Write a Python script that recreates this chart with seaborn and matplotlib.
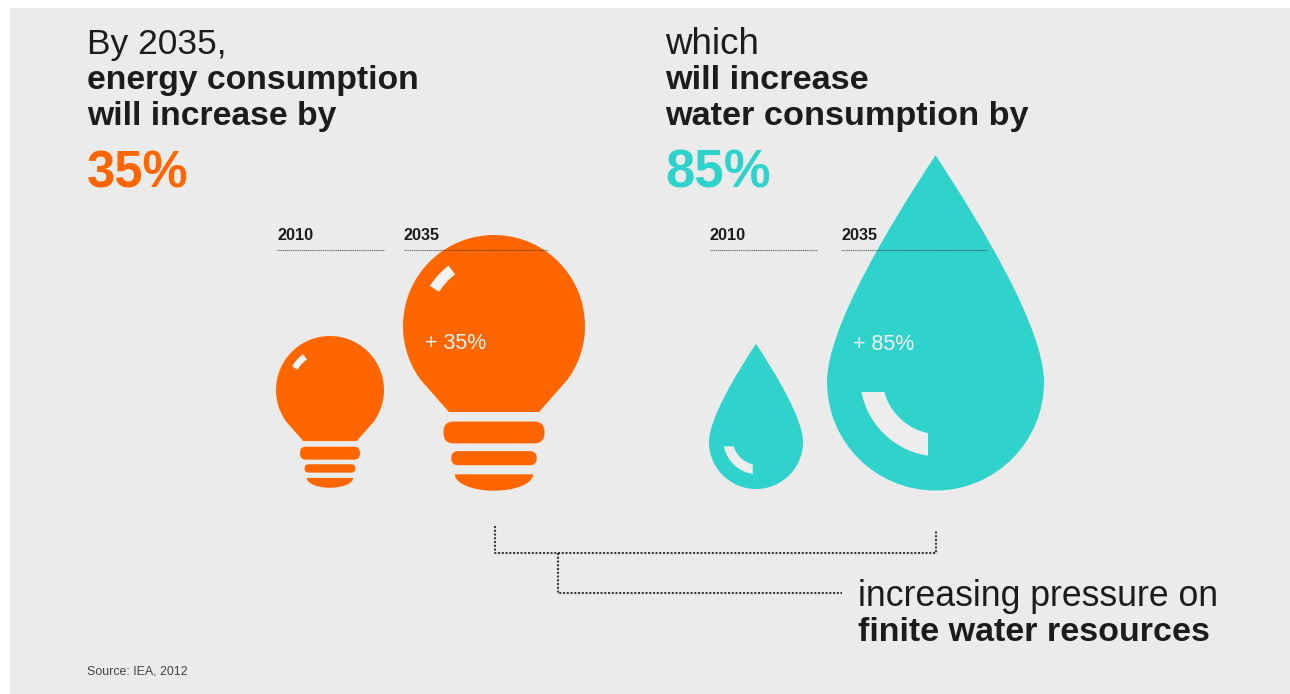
import numpy as np
import pandas as pd
import matplotlib
matplotlib.use("Agg")
import matplotlib.pyplot as plt
from matplotlib.patches import Polygon, PathPatch, Rectangle
from matplotlib.path import Path
import seaborn as sns

# ---- data ----
years = ["2010", "2035"]
energy_increase = 35
water_increase = 85
source_text = "Source: IEA, 2012"
heading_left = ["By 2035,", "energy consumption", "will increase by"]
heading_right = ["which", "will increase", "water consumption by"]
footer_lines = ["increasing pressure on", "finite water resources"]

ORANGE = "#ff6600"
TEAL = "#30d3cb"
BG = "#ebebeb"
INK = "#1c1c1c"
W = "#f3f3f3"

sns.set_theme(style="white")
plt.rcParams["font.family"] = ["Liberation Sans", "DejaVu Sans"]

fig = plt.figure(figsize=(12.9, 6.94), dpi=100, facecolor="white")
ax = fig.add_axes([0, 0, 1, 1])
ax.set_xlim(0, 1290)
ax.set_ylim(694, 0)
ax.axis("off")
ax.add_patch(Rectangle((10, 8), 1280, 686, fc=BG, ec="none", zorder=0))


def round_band(x0, x1, y0, y1, rad):
    verts, codes = [(x0 + rad, y0)], [Path.MOVETO]
    for (a, b, c) in [((x1 - rad, y0), (x1, y0), (x1, y0 + rad)),
                      ((x1, y1 - rad), (x1, y1), (x1 - rad, y1)),
                      ((x0 + rad, y1), (x0, y1), (x0, y1 - rad)),
                      ((x0, y0 + rad), (x0, y0), (x0 + rad, y0))]:
        verts += [a, b, c]
        codes += [Path.LINETO, Path.CURVE3, Path.CURVE3]
    return Path(verts, codes)


def bulb(cx, cy, r, color):
    # angles run through the top of the globe; y axis points downward
    t = np.radians(np.linspace(216, -36, 90))
    xs = cx + r * np.cos(t)
    ys = cy - r * np.sin(t)
    pts = [(cx - 0.495 * r, cy + 0.945 * r)] + list(zip(xs, ys)) + [(cx + 0.495 * r, cy + 0.945 * r)]
    ax.add_patch(Polygon(pts, closed=True, fc=color, ec="none", zorder=2))
    ax.add_patch(PathPatch(round_band(cx - .555 * r, cx + .555 * r, cy + 1.05 * r, cy + 1.29 * r, .11 * r),
                           fc=color, ec="none", zorder=2))
    ax.add_patch(PathPatch(round_band(cx - .47 * r, cx + .47 * r, cy + 1.375 * r, cy + 1.53 * r, .075 * r),
                           fc=color, ec="none", zorder=2))
    d = np.radians(np.linspace(0, 180, 40))
    dome = [(cx + .43 * r * np.cos(v), cy + 1.63 * r + .18 * r * np.sin(v)) for v in d]
    ax.add_patch(Polygon(dome, closed=True, fc=color, ec="none", zorder=2))
    h = np.radians(np.linspace(148, 127, 12))
    ring = [(cx + .83 * r * np.cos(v), cy - .83 * r * np.sin(v)) for v in h] + \
           [(cx + .71 * r * np.cos(v), cy - .71 * r * np.sin(v)) for v in h[::-1]]
    ax.add_patch(Polygon(ring, closed=True, fc=W, ec="none", zorder=3))


def drop(cx, cy, r, color):
    k = 0.5523
    v = [(cx, cy - 2.09 * r),
         (cx - .42 * r, cy - 1.45 * r), (cx - r, cy - .5 * r), (cx - r, cy),
         (cx - r, cy + k * r), (cx - k * r, cy + r), (cx, cy + r),
         (cx + k * r, cy + r), (cx + r, cy + k * r), (cx + r, cy),
         (cx + r, cy - .5 * r), (cx + .42 * r, cy - 1.45 * r), (cx, cy - 2.09 * r)]
    c = [Path.MOVETO] + [Path.CURVE4] * 12
    ax.add_patch(PathPatch(Path(v, c), fc=color, ec="none", zorder=2))

    # curved glint: ring about a centre near the drop's, cut flat on top and right
    ox, oy = cx + .041 * r, cy - .049 * r
    top, right = .141, .11   # offsets of the flat cuts from the ring centre, in r

    def arc(R):
        phi = np.linspace(np.arcsin(top / R), np.arccos(right / R), 24)
        return [(ox - R * r * np.cos(p), oy + R * r * np.sin(p)) for p in phi]

    ring = arc(.737) + arc(.532)[::-1]
    ax.add_patch(Polygon(ring, closed=True, fc="#ededed", ec="none", zorder=3))


bulb(330, 390, 54, ORANGE)
bulb(494, 326, 91, ORANGE)
drop(756, 442, 47, TEAL)
drop(935.5, 382, 108.5, TEAL)

# year headers and their hairlines
for x, x1, yr in [(277, 384, years[0]), (404, 548, years[1]),
                  (710, 817, years[0]), (841, 987, years[1])]:
    ax.text(x, 239.5, yr, fontsize=11.7, fontweight="bold", color=INK, va="baseline", ha="left", zorder=5)
    sns.lineplot(x=[x, x1], y=[250, 250], ax=ax, color="#33383a", linewidth=0.8, alpha=0.75,
                 linestyle=(0, (1, 0.7)), legend=False, zorder=5)

# dotted brackets
for xs, ys in [([495, 495, 936, 936], [526, 553, 553, 530]),
               ([558, 558, 842], [553, 593, 593])]:
    frame = pd.DataFrame({"x": xs, "y": ys})
    sns.lineplot(data=frame, x="x", y="y", sort=False, estimator=None, ax=ax,
                 color="#3a3a3a", linewidth=1.5, linestyle=(0, (1, 0.8)), legend=False, zorder=4)

ax.set_xlim(0, 1290)
ax.set_ylim(694, 0)
ax.set_xlabel("")
ax.set_ylabel("")

# headings
ax.text(87, 54, heading_left[0], fontsize=25.5, color=INK, va="baseline", zorder=5)
ax.text(87, 89, heading_left[1], fontsize=24.3, fontweight="bold", color=INK, va="baseline", zorder=5)
ax.text(87, 125, heading_left[2], fontsize=24.3, fontweight="bold", color=INK, va="baseline", zorder=5)
ax.text(665, 54, heading_right[0], fontsize=26.5, color=INK, va="baseline", zorder=5)
ax.text(665, 89, heading_right[1], fontsize=24.7, fontweight="bold", color=INK, va="baseline", zorder=5)
ax.text(665, 125, heading_right[2], fontsize=24.7, fontweight="bold", color=INK, va="baseline", zorder=5)
ax.text(87, 187.5, f"{energy_increase}%", fontsize=36.5, fontweight="bold", color=ORANGE, va="baseline", zorder=5)
ax.text(665, 187.5, f"{water_increase}%", fontsize=38, fontweight="bold", color=TEAL, va="baseline", zorder=5)

ax.text(425, 349, f"+ {energy_increase}%", fontsize=15.5, color=W, va="baseline", zorder=5)
ax.text(853, 350, f"+ {water_increase}%", fontsize=15.5, color=W, va="baseline", zorder=5)

ax.text(858, 606.5, footer_lines[0], fontsize=25.7, color=INK, va="baseline", zorder=5)
ax.text(858, 641, footer_lines[1], fontsize=24.5, fontweight="bold", color=INK, va="baseline", zorder=5)
ax.text(87, 674, source_text, fontsize=8.9, color="#444444", va="baseline", zorder=5)

fig.savefig("out.png", dpi=100, facecolor="white")
